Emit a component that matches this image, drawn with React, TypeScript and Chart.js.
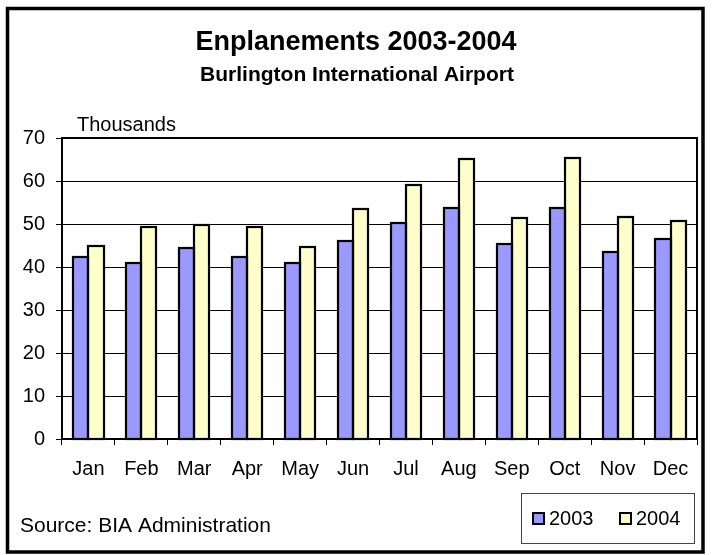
import React, { useEffect, useRef } from "react";
import { Chart, registerables } from "chart.js";

Chart.register(...registerables);

const months = ["Jan", "Feb", "Mar", "Apr", "May", "Jun", "Jul", "Aug", "Sep", "Oct", "Nov", "Dec"];
const values2003 = [42.3, 41.0, 44.5, 42.3, 41.0, 46.1, 50.3, 53.7, 45.4, 53.8, 43.4, 46.6];
const values2004 = [45.0, 49.4, 49.7, 49.4, 44.7, 53.4, 59.1, 65.2, 51.5, 65.3, 51.7, 50.6];
const seriesNames = ["2003", "2004"];
const yMin = 0;
const yMax = 70;
const yStep = 10;
const titleText = "Enplanements 2003-2004";
const subtitleText = "Burlington International Airport";
const unitText = "Thousands";
const sourceText = "Source: BIA Administration";

const FONT = "'Liberation Sans', Arial, sans-serif";

const barOutlines = {
  id: "barOutlines",
  afterDatasetsDraw(chart: any) {
    const ctx = chart.ctx;
    ctx.save();
    ctx.strokeStyle = "#000";
    ctx.lineWidth = 2.2;
    chart.data.datasets.forEach((_: any, di: number) => {
      const meta = chart.getDatasetMeta(di);
      meta.data.forEach((el: any) => {
        const p = el.getProps(["x", "y", "base", "width"], true);
        const l = Math.round(p.x - p.width / 2);
        const r = Math.round(p.x + p.width / 2);
        const t = Math.round(p.y);
        const b = Math.round(p.base);
        ctx.strokeRect(l, t, r - l, b - t);
      });
    });
    ctx.restore();
  },
};

const decor = {
  id: "decor",
  beforeDraw(chart: any) {
    const ctx = chart.ctx;
    ctx.save();
    ctx.fillStyle = "#ffffff";
    ctx.fillRect(0, 0, chart.width, chart.height);
    ctx.restore();
  },
  afterDraw(chart: any) {
    const ctx = chart.ctx;
    const area = chart.chartArea;
    ctx.save();
    // plot area border
    ctx.strokeStyle = "#000";
    ctx.lineWidth = 2;
    ctx.strokeRect(area.left, area.top, area.right - area.left, area.bottom - area.top);

    // outer frame
    ctx.lineWidth = 3.5;
    ctx.strokeRect(7.5, 8.5, 695.5, 543.5);

    // titles
    ctx.fillStyle = "#000";
    ctx.textAlign = "center";
    ctx.textBaseline = "alphabetic";
    ctx.font = `bold 27px ${FONT}`;
    ctx.fillText(titleText, 356, 50);
    ctx.font = `bold 21px ${FONT}`;
    ctx.fillText(subtitleText, 357, 81);

    // unit label
    ctx.textAlign = "left";
    ctx.font = `20px ${FONT}`;
    ctx.fillText(unitText, 77, 131);

    // source
    ctx.font = `21px ${FONT}`;
    ctx.fillText(sourceText, 20, 532);

    // legend
    ctx.strokeStyle = "#444";
    ctx.lineWidth = 1;
    ctx.strokeRect(521.5, 493.5, 173, 50);
    const swX = [532, 619];
    chart.data.datasets.forEach((ds: any, i: number) => {
      const x = swX[i];
      ctx.fillStyle = ds.backgroundColor;
      ctx.fillRect(x, 512, 13, 13);
      ctx.strokeStyle = "#000";
      ctx.lineWidth = 2;
      ctx.strokeRect(x + 1, 513, 11, 11);
      ctx.fillStyle = "#000";
      ctx.font = `20px ${FONT}`;
      ctx.textAlign = "left";
      ctx.fillText(ds.label, x + 17, 525);
    });
    ctx.restore();
  },
};

export default function App() {
  const ref = useRef<HTMLCanvasElement | null>(null);
  useEffect(() => {
    if (!ref.current) return;
    const chart = new Chart(ref.current, {
      type: "bar",
      data: {
        labels: months,
        datasets: [
          {
            label: seriesNames[0],
            data: values2003,
            backgroundColor: "#9999FF",
            borderWidth: 0,
            categoryPercentage: 0.57,
            barPercentage: 1.0,
          },
          {
            label: seriesNames[1],
            data: values2004,
            backgroundColor: "#FFFFCC",
            borderWidth: 0,
            categoryPercentage: 0.57,
            barPercentage: 1.0,
          },
        ],
      },
      options: {
        responsive: false,
        animation: false,
        devicePixelRatio: 1,
        layout: { padding: { top: 138, left: 12, right: 16, bottom: 76 } },
        plugins: {
          legend: { display: false },
          title: { display: false },
          tooltip: { enabled: false },
        },
        scales: {
          x: {
            afterFit: (s: any) => {
              s.height = 40;
            },
            grid: {
              display: true,
              drawOnChartArea: false,
              drawTicks: true,
              tickLength: 6,
              color: "#000",
              lineWidth: 1,
              offset: true,
            },
            border: { color: "#000", width: 2 },
            ticks: {
              color: "#000",
              padding: 12,
              font: { family: FONT, size: 20 },
              maxRotation: 0,
              autoSkip: false,
            },
          },
          y: {
            min: yMin,
            max: yMax,
            afterFit: (s: any) => {
              s.width = 50;
            },
            grid: {
              color: "#000",
              lineWidth: 1,
              drawTicks: true,
              tickLength: 6,
            },
            border: { color: "#000", width: 2 },
            ticks: {
              stepSize: yStep,
              color: "#000",
              padding: 11,
              font: { family: FONT, size: 20 },
            },
          },
        },
      },
      plugins: [decor, barOutlines],
    });
    return () => chart.destroy();
  }, []);
  return (
    <div style={{ position: "absolute", left: 0, top: 0, width: 713, height: 555 }}>
      <canvas ref={ref} width={713} height={555} style={{ display: "block" }} />
    </div>
  );
}
